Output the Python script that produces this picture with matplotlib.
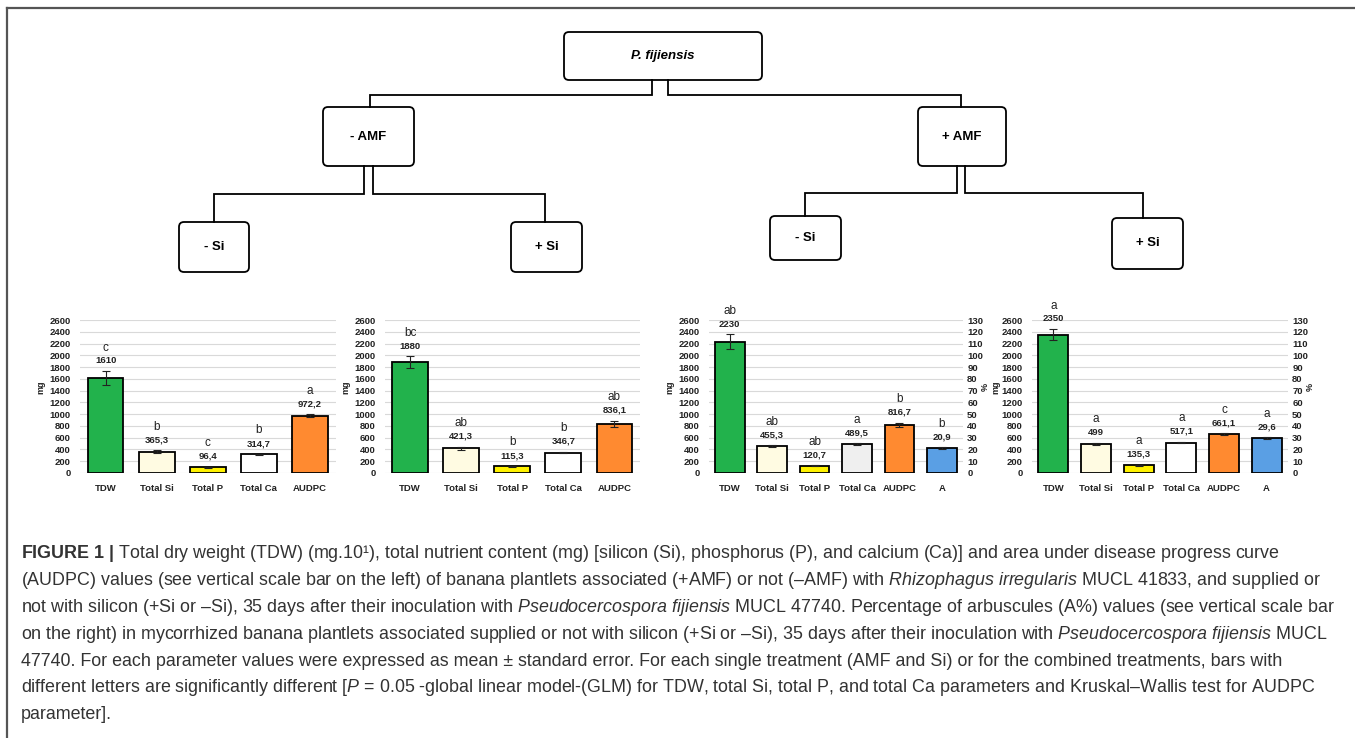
import numpy as np
import matplotlib
matplotlib.use("Agg")
import matplotlib.pyplot as plt
from matplotlib import font_manager
from matplotlib.patches import FancyBboxPatch

W, H = 1355, 738

# --- data ---
labels = ['TDW', 'Total Si', 'Total P', 'Total Ca', 'AUDPC', 'A']

# -AMF -Si
v_nn = [1610, 365.3, 96.4, 314.7, 972.2]
e_nn = [120, 18, 8, 8, 22]
l_nn = ['c', 'b', 'c', 'b', 'a']
# -AMF +Si
v_np = [1880, 421.3, 115.3, 346.7, 836.1]
e_np = [100, 25, 5, 12, 55]
l_np = ['bc', 'ab', 'b', 'b', 'ab']
# +AMF -Si
v_pn = [2230, 455.3, 120.7, 489.5, 816.7]
e_pn = [125, 18, 8, 15, 35]
l_pn = ['ab', 'ab', 'ab', 'a', 'b']
a_pn, ea_pn, la_pn = 20.9, 0.8, 'b'
# +AMF +Si
v_pp = [2350, 499, 135.3, 517.1, 661.1]
e_pp = [90, 15, 8, 15, 15]
l_pp = ['a', 'a', 'a', 'a', 'c']
a_pp, ea_pp, la_pp = 29.6, 0.6, 'a'

tree_top = 'P. fijiensis'
tree_amf = ['- AMF', '+ AMF']
tree_si = ['- Si', '+ Si']

green, cream, yellow, white, orange, blue = '#22b24c', '#fffbe2', '#fff200', '#ffffff', '#ff8a30', '#5a9fe4'

names = {f.name for f in font_manager.fontManager.ttflist}
narrow = 'Liberation Sans Narrow' if 'Liberation Sans Narrow' in names else 'Liberation Sans'

plt.rcParams['mathtext.fontset'] = 'custom'
plt.rcParams['mathtext.rm'] = narrow
plt.rcParams['mathtext.it'] = narrow + ':italic'
plt.rcParams['mathtext.bf'] = narrow + ':bold'

fig = plt.figure(figsize=(W / 100, H / 100), dpi=100)

# overlay in pixel units for frame + tree
ov = fig.add_axes([0, 0, 1, 1])
ov.set_xlim(0, W)
ov.set_ylim(H, 0)
ov.axis('off')

ov.plot([7, W], [8, 8], color='#555555', lw=1.6)
ov.plot([7, 7], [8, H], color='#555555', lw=1.6)


def box(x0, y0, x1, y1, txt, **kw):
    ov.add_patch(FancyBboxPatch((x0, y0), x1 - x0, y1 - y0,
                                boxstyle='round,pad=0,rounding_size=5',
                                fc='white', ec='black', lw=1.3))
    ov.text((x0 + x1) / 2, (y0 + y1) / 2, txt, ha='center', va='center',
            family=narrow, fontweight='bold', fontsize=9.5, **kw)


def wire(xs, ys):
    ov.plot(xs, ys, color='black', lw=1.3, solid_joinstyle='miter')


box(564, 32, 762, 80, tree_top, fontstyle='italic')
box(323, 107, 414, 166, tree_amf[0])
box(918, 107, 1006, 166, tree_amf[1])
box(179, 222, 249, 272, tree_si[0])
box(511, 222, 582, 272, tree_si[1])
box(770, 216, 841, 260, tree_si[0])
box(1112, 218, 1183, 269, tree_si[1])

wire([652, 652, 370, 370], [80, 95, 95, 107])
wire([668, 668, 961, 961], [80, 95, 95, 107])
wire([364, 364, 214, 214], [166, 194, 194, 222])
wire([373, 373, 545, 545], [166, 194, 194, 222])
wire([957, 957, 805, 805], [166, 193, 193, 216])
wire([965, 965, 1143, 1143], [166, 193, 193, 218])


def fmt(v):
    return f'{v:g}'.replace('.', ',')


def style(ax):
    for s in ax.spines.values():
        s.set_visible(False)
    ax.tick_params(length=0, labelsize=6.8, labelcolor='#222222')
    for t in ax.get_yticklabels() + ax.get_xticklabels():
        t.set_family(narrow)
        t.set_fontweight('bold')


def annotate(ax, x, top, val, let):
    ax.annotate(fmt(val), (x, top), xytext=(0, 7.5), textcoords='offset points',
                ha='center', va='center', fontsize=6.8, family=narrow,
                fontweight='bold', color='#222222', zorder=6)
    ax.annotate(let, (x, top), xytext=(0, 17), textcoords='offset points',
                ha='center', va='center', fontsize=8.5, family=narrow,
                color='#222222', zorder=6)


def chart(x0, x1, vals, errs, lets, colors, a=None, mg_x=-0.135):
    y0, y1 = 320, 473
    ax = fig.add_axes([x0 / W, 1 - y1 / H, (x1 - x0) / W, (y1 - y0) / H])
    n = len(vals) + (1 if a else 0)
    x = np.arange(len(vals))
    ax.bar(x, vals, width=0.7, color=colors, edgecolor='black', linewidth=1.3, zorder=3)
    ax.errorbar(x, vals, yerr=errs, fmt='none', ecolor='#222222', elinewidth=0.8,
                capsize=3, capthick=0.8, zorder=4)
    for xi, v, e, l in zip(x, vals, errs, lets):
        annotate(ax, xi, v + e, v, l)
    ax.set_ylim(0, 2600)
    ax.set_yticks(range(0, 2601, 200))
    ax.set_xlim(-0.5, n - 0.5)
    ax.set_xticks(range(n))
    ax.set_xticklabels(labels[:n])
    ax.grid(axis='y', color='#d9d9d9', lw=0.8, zorder=0)
    ax.set_axisbelow(True)
    ax.tick_params(axis='y', pad=6.5)
    ax.tick_params(axis='x', pad=8)
    style(ax)
    ax.set_ylabel('mg', family=narrow, fontweight='bold', fontsize=6.5, color='#222222')
    ax.yaxis.set_label_coords(mg_x, 0.56)
    ax.patch.set_alpha(0)
    if a:
        val, err, let = a
        ax2 = ax.twinx()
        ax2.bar([n - 1], [val], width=0.7, color=blue, edgecolor='black', linewidth=1.3, zorder=3)
        ax2.errorbar([n - 1], [val], yerr=[err], fmt='none', ecolor='#222222',
                     elinewidth=0.8, capsize=3, capthick=0.8, zorder=4)
        annotate(ax2, n - 1, val + err, val, let)
        ax2.set_ylim(0, 130)
        ax2.set_yticks(range(0, 131, 10))
        ax2.tick_params(axis='y', pad=3)
        style(ax2)
        ax2.set_ylabel('%', family=narrow, fontweight='bold', fontsize=6.5, color='#222222')
        ax2.yaxis.set_label_coords(1.07, 0.56)
    return ax


chart(80, 335.5, v_nn, e_nn, l_nn, [green, cream, yellow, white, orange])
chart(384.5, 640, v_np, e_np, l_np, [green, cream, yellow, white, orange])
chart(708.5, 963, v_pn, e_pn, l_pn, [green, cream, yellow, '#efefef', orange], (a_pn, ea_pn, la_pn))
chart(1032, 1288, v_pp, e_pp, l_pp, [green, cream, yellow, white, orange], (a_pp, ea_pp, la_pp),
      mg_x=-0.122)

# --- caption ---
cap = [
    r"$\mathbf{FIGURE\ 1\ |}$ Total dry weight (TDW) (mg.10¹), total nutrient content (mg) [silicon (Si), phosphorus (P), and calcium (Ca)] and area under disease progress curve",
    r"(AUDPC) values (see vertical scale bar on the left) of banana plantlets associated (+AMF) or not (–AMF) with $\mathit{Rhizophagus\ irregularis}$ MUCL 41833, and supplied or",
    r"not with silicon (+Si or –Si), 35 days after their inoculation with $\mathit{Pseudocercospora\ fijiensis}$ MUCL 47740. Percentage of arbuscules (A%) values (see vertical scale bar",
    r"on the right) in mycorrhized banana plantlets associated supplied or not with silicon (+Si or –Si), 35 days after their inoculation with $\mathit{Pseudocercospora\ fijiensis}$ MUCL",
    "47740. For each parameter values were expressed as mean ± standard error. For each single treatment (AMF and Si) or for the combined treatments, bars with",
    r"different letters are significantly different [$\mathit{P}$ = 0.05 -global linear model-(GLM) for TDW, total Si, total P, and total Ca parameters and Kruskal–Wallis test for AUDPC",
    "parameter].",
]

r = fig.canvas.get_renderer()
probe = fig.text(0, 0, cap[0], fontsize=10, family=narrow)
fs = 10 * (1282 - 21) / probe.get_window_extent(r).width
probe.remove()

for i, line in enumerate(cap):
    fig.text(21 / W, 1 - (554 + i * 26.8) / H, line, fontsize=fs, family=narrow,
             color='#333333', va='center', ha='left')

fig.savefig('out.png', dpi=100)
